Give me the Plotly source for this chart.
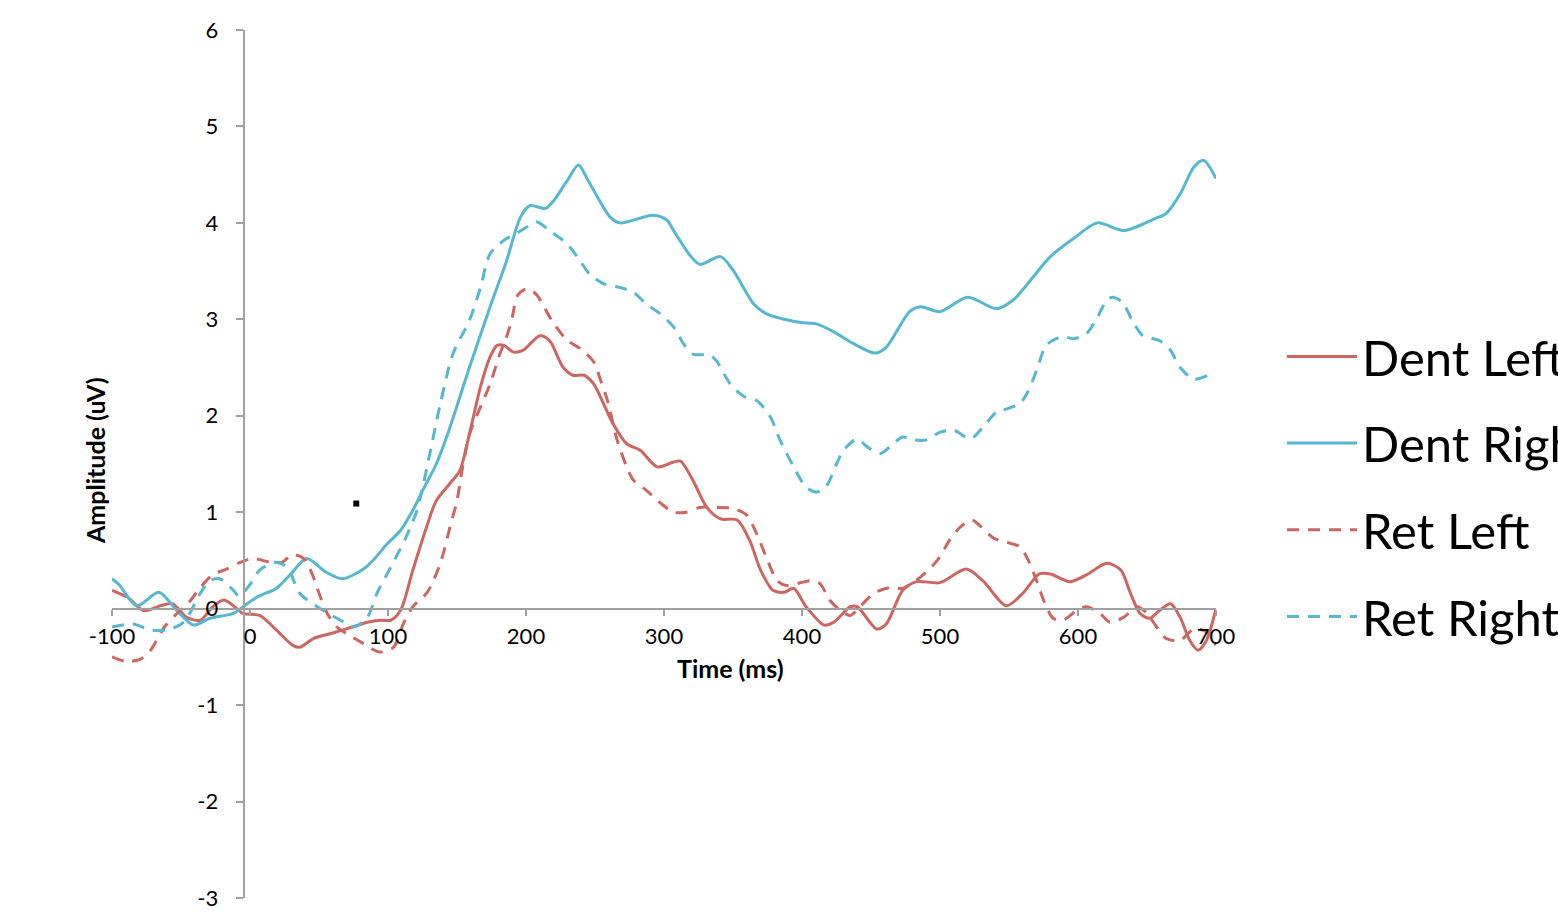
import plotly.graph_objects as go

# ---------------- data ----------------
dent_right_t = [-100, -95, -82, -66, -53, -41, -29, -12, -5, 5, 19, 29, 41, 55, 67, 84, 100, 109, 118,
                126, 135, 143, 159, 174, 186, 196, 203, 214, 220, 230, 238, 245, 261, 268, 292, 302,
                307, 319, 326, 341, 350, 365, 374, 398, 411, 423, 437, 453, 461, 478, 486, 500, 520,
                541, 553, 580, 597, 614, 633, 655, 664, 674, 684, 691, 700]
dent_right_v = [0.31, 0.25, 0.03, 0.17, -0.02, -0.17, -0.10, -0.05, 0.02, 0.12, 0.21, 0.35, 0.52, 0.38,
                0.31, 0.43, 0.68, 0.81, 1.02, 1.25, 1.50, 1.80, 2.50, 3.13, 3.61, 4.06, 4.18, 4.15, 4.23,
                4.44, 4.60, 4.44, 4.06, 4.00, 4.08, 4.03, 3.92, 3.66, 3.57, 3.65, 3.51, 3.16, 3.06, 2.97,
                2.95, 2.87, 2.75, 2.65, 2.71, 3.08, 3.13, 3.08, 3.23, 3.11, 3.20, 3.65, 3.84, 4.00, 3.92,
                4.04, 4.10, 4.30, 4.58, 4.65, 4.46]

ret_right_t = [-100, -85, -72, -60, -48, -36, -29, -22, -12, -8, 0, 7, 18, 27, 36, 51, 68, 75, 85, 92,
               102, 113, 121, 128, 138, 147, 159, 167, 174, 184, 193, 201, 208, 217, 230, 239, 246, 256,
               268, 278, 287, 297, 307, 314, 321, 333, 338, 348, 358, 367, 377, 384, 394, 403, 411, 418,
               425, 430, 440, 447, 457, 466, 473, 481, 490, 500, 510, 522, 531, 541, 546, 558, 563, 570,
               577, 588, 597, 606, 614, 621, 625, 632, 640, 647, 659, 667, 674, 684, 694]
ret_right_v = [-0.19, -0.16, -0.22, -0.22, -0.14, 0.16, 0.29, 0.31, 0.19, 0.13, 0.25, 0.40, 0.48, 0.43,
               0.16, 0.00, -0.14, -0.19, -0.09, 0.16, 0.43, 0.74, 1.02, 1.45, 2.13, 2.64, 2.99, 3.33,
               3.68, 3.82, 3.89, 3.96, 4.01, 3.92, 3.78, 3.61, 3.47, 3.37, 3.33, 3.28, 3.16, 3.06, 2.92,
               2.75, 2.64, 2.63, 2.57, 2.33, 2.20, 2.16, 1.99, 1.75, 1.47, 1.26, 1.21, 1.28, 1.50, 1.64,
               1.76, 1.68, 1.61, 1.71, 1.78, 1.75, 1.75, 1.83, 1.85, 1.76, 1.88, 2.04, 2.06, 2.13, 2.23,
               2.47, 2.73, 2.82, 2.80, 2.85, 3.02, 3.20, 3.23, 3.18, 2.97, 2.83, 2.78, 2.68, 2.50, 2.38,
               2.42]

dent_left_t = [-100, -89, -77, -65, -56, -46, -36, -27, -19, -12, -5, 7, 19, 31, 36, 46, 58, 70, 85, 95,
               102, 109, 118, 128, 135, 145, 152, 159, 167, 174, 179, 184, 191, 198, 210, 217, 227, 234,
               242, 249, 256, 263, 273, 283, 295, 307, 312, 321, 331, 341, 353, 362, 370, 379, 387, 394,
               403, 416, 423, 435, 440, 454, 461, 473, 483, 500, 519, 531, 548, 560, 572, 580, 594, 606,
               621, 631, 638, 645, 652, 659, 667, 674, 681, 687, 693, 700]
dent_left_v = [0.19, 0.12, -0.02, 0.03, 0.05, -0.09, -0.12, 0.02, 0.09, 0.03, -0.05, -0.07, -0.22, -0.38,
               -0.40, -0.31, -0.26, -0.21, -0.14, -0.12, -0.12, -0.02, 0.40, 0.85, 1.12, 1.30, 1.43, 1.81,
               2.30, 2.61, 2.73, 2.73, 2.66, 2.68, 2.83, 2.78, 2.50, 2.42, 2.42, 2.33, 2.13, 1.92, 1.71,
               1.64, 1.47, 1.52, 1.53, 1.33, 1.05, 0.93, 0.92, 0.71, 0.40, 0.19, 0.17, 0.21, 0.02, -0.17,
               -0.14, 0.02, 0.02, -0.21, -0.16, 0.19, 0.28, 0.27, 0.41, 0.29, 0.03, 0.16, 0.36, 0.36,
               0.28, 0.35, 0.47, 0.40, 0.16, -0.05, -0.10, -0.02, 0.05, -0.09, -0.33, -0.43, -0.33, 0.00]

ret_left_t = [-100, -89, -79, -72, -62, -53, -44, -36, -27, -17, -7, 2, 15, 23, 31, 39, 45, 50, 56, 63,
              70, 82, 94, 104, 111, 118, 128, 135, 140, 145, 150, 153, 159, 167, 174, 181, 186, 190,
              194, 201, 208, 213, 220, 230, 239, 249, 254, 259, 266, 273, 278, 287, 297, 307, 316, 326,
              336, 350, 360, 367, 374, 382, 389, 406, 413, 420, 428, 435, 442, 452, 464, 473, 486, 498,
              507, 515, 523, 529, 539, 548, 558, 564, 570, 575, 582, 589, 599, 606, 616, 623, 633, 643,
              650, 657, 664, 674, 684, 693, 700]
ret_left_v = [-0.50, -0.55, -0.52, -0.43, -0.19, -0.05, 0.07, 0.22, 0.35, 0.41, 0.48, 0.52, 0.48, 0.48,
              0.56, 0.52, 0.36, 0.16, -0.05, -0.19, -0.26, -0.36, -0.45, -0.40, -0.16, 0.02, 0.16, 0.36,
              0.57, 0.85, 1.12, 1.38, 1.81, 2.09, 2.33, 2.64, 2.82, 3.02, 3.25, 3.32, 3.25, 3.13, 2.96,
              2.78, 2.70, 2.56, 2.37, 2.16, 1.75, 1.47, 1.33, 1.23, 1.10, 1.00, 1.00, 1.05, 1.05, 1.04,
              0.97, 0.78, 0.54, 0.29, 0.24, 0.29, 0.26, 0.09, -0.02, -0.07, 0.02, 0.16, 0.22, 0.21, 0.33,
              0.50, 0.71, 0.85, 0.92, 0.86, 0.73, 0.69, 0.64, 0.50, 0.29, 0.09, -0.10, -0.12, -0.02,
              0.02, -0.05, -0.14, -0.09, 0.02, -0.05, -0.19, -0.31, -0.33, -0.21, -0.24, -0.38]

stray_t = [77]
stray_v = [1.09]

x_ticks = [-100, 0, 100, 200, 300, 400, 500, 600, 700]
y_ticks = [-3, -2, -1, 0, 1, 2, 3, 4, 5, 6]

RED = "#CD6660"
BLUE = "#55B8D0"
AXIS = "#A0A0A0"
FONT = "Lato"

fig = go.Figure()

series = [
    ("Dent Left", dent_left_t, dent_left_v, RED, "solid"),
    ("Dent Right", dent_right_t, dent_right_v, BLUE, "solid"),
    ("Ret Left", ret_left_t, ret_left_v, RED, "12px,9px"),
    ("Ret Right", ret_right_t, ret_right_v, BLUE, "12px,9px"),
]
for name, t, v, col, dash in series:
    fig.add_trace(go.Scatter(
        x=t, y=v, name=name, mode="lines", legendgroup=name,
        line=dict(color=col, width=3, dash=dash, shape="spline", smoothing=0.8),
    ))

fig.add_trace(go.Scatter(x=stray_t, y=stray_v, mode="markers", showlegend=False,
                         marker=dict(symbol="square", size=6, color="black")))

W, H = 1558, 917
ML, MR, MT, MB = 112, 342, 30, 19
plot_w = W - ML - MR

fig.update_layout(
    width=W, height=H,
    margin=dict(l=ML, r=MR, t=MT, b=MB, pad=0, autoexpand=False),
    paper_bgcolor="white", plot_bgcolor="white",
    font=dict(family=FONT, size=22, color="black"),
    showlegend=True,
    legend=dict(
        x=(1282 - ML) / plot_w, xanchor="left",
        y=0.474, yanchor="middle",
        font=dict(family=FONT, size=49, color="black"),
        itemwidth=70, tracegroupgap=20,
        bgcolor="rgba(0,0,0,0)",
    ),
    xaxis=dict(
        range=[-100, 700], tickvals=x_ticks, ticktext=[str(v) for v in x_ticks],
        showline=True, linecolor=AXIS, linewidth=2,
        ticks="outside", ticklen=6, tickwidth=2, tickcolor=AXIS,
        showgrid=False, zeroline=False,
        anchor="free", position=1 / 3,
        tickfont=dict(family=FONT, size=22, color="black"),
        ticklabelstandoff=2,
    ),
    yaxis=dict(
        range=[-3, 6], tickvals=y_ticks, ticktext=[str(v) for v in y_ticks],
        showline=True, linecolor=AXIS, linewidth=2,
        ticks="outside", ticklen=7, tickwidth=2, tickcolor=AXIS,
        showgrid=False, zeroline=False,
        anchor="free", position=(243.7 - ML) / plot_w,
        tickfont=dict(family=FONT, size=22, color="black"),
        ticklabelstandoff=13,
    ),
    annotations=[
        dict(text="<b>Amplitude (uV)</b>", textangle=-90, xref="paper", yref="paper",
             x=(95 - ML) / plot_w, y=(898 - 461) / 868, xanchor="center", yanchor="middle",
             showarrow=False, font=dict(family=FONT, size=25, color="black")),
        dict(text="<b>Time (ms)</b>", xref="paper", yref="paper",
             x=(730.5 - ML) / plot_w, y=(898 - 668) / 868, xanchor="center", yanchor="middle",
             showarrow=False, font=dict(family=FONT, size=25, color="black")),
    ],
)

fig.write_html("out.html")
